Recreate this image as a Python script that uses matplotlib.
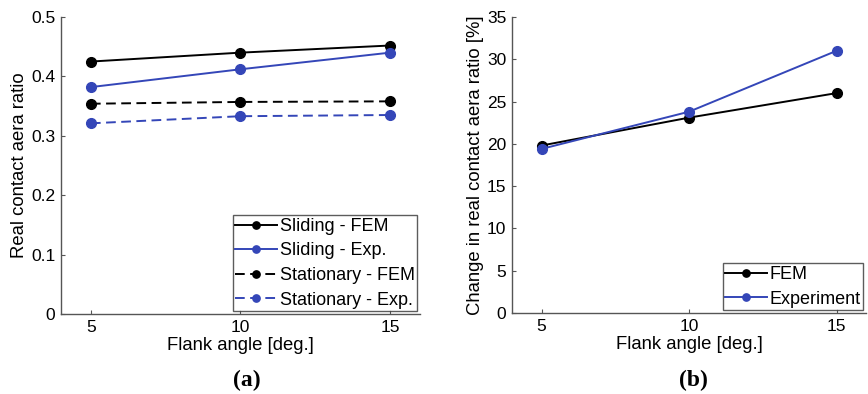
import matplotlib
matplotlib.use("Agg")
import matplotlib.pyplot as plt

plt.rcParams['font.family'] = ['Liberation Sans', 'DejaVu Sans']

angles = [5, 10, 15]
sliding_fem = [0.425, 0.440, 0.452]
sliding_exp = [0.382, 0.412, 0.440]
stationary_fem = [0.354, 0.357, 0.358]
stationary_exp = [0.321, 0.333, 0.335]
change_fem = [19.8, 23.1, 26.0]
change_exp = [19.4, 23.8, 31.0]

black = '#000000'
blue = '#3446b8'
fs_tick = 12.5
fs_lab = 13.3
fs_leg = 13

fig = plt.figure(figsize=(8.68, 3.94), dpi=100)
ax1 = fig.add_axes([61/868, 1-314/394, (420-61)/868, (314-17)/394])
ax2 = fig.add_axes([512/868, 1-313/394, (866-512)/868, (313-17)/394])

ms = 7
lw = 1.4
dash = (5, 2.8)
ax1.plot(angles, sliding_fem, '-o', color=black, ms=ms, lw=lw, label='Sliding - FEM')
ax1.plot(angles, sliding_exp, '-o', color=blue, ms=ms, lw=lw, label='Sliding - Exp.')
ax1.plot(angles, stationary_fem, '--o', color=black, ms=ms, lw=lw, dashes=dash,
         label='Stationary - FEM')
ax1.plot(angles, stationary_exp, '--o', color=blue, ms=ms, lw=lw, dashes=dash,
         label='Stationary - Exp.')
ax1.set_xlim(4, 16)
ax1.set_ylim(0, 0.5)
ax1.set_xticks([5, 10, 15])
ax1.set_yticks([0, 0.1, 0.2, 0.3, 0.4, 0.5])
ax1.set_yticklabels(['0', '0.1', '0.2', '0.3', '0.4', '0.5'])
ax1.set_xlabel('Flank angle [deg.]', fontsize=fs_lab, labelpad=2)
ax1.set_ylabel('Real contact aera ratio', fontsize=fs_lab, labelpad=2)
leg_kw = dict(loc='lower right', fontsize=fs_leg, frameon=True, fancybox=False,
              edgecolor='#333333', borderpad=0.15, labelspacing=0.42,
              handlelength=2.3, handletextpad=0.15, borderaxespad=0.15,
              markerscale=0.75)
leg1 = ax1.legend(**leg_kw)
leg1.get_frame().set_linewidth(1.0)

ax2.plot(angles, change_fem, '-o', color=black, ms=ms, lw=lw, label='FEM')
ax2.plot(angles, change_exp, '-o', color=blue, ms=ms, lw=lw, label='Experiment')
ax2.set_xlim(4, 16)
ax2.set_ylim(0, 35)
ax2.set_xticks([5, 10, 15])
ax2.set_yticks([0, 5, 10, 15, 20, 25, 30, 35])
ax2.set_xlabel('Flank angle [deg.]', fontsize=fs_lab, labelpad=2)
ax2.set_ylabel('Change in real contact aera ratio [%]', fontsize=fs_lab, labelpad=2)
leg2 = ax2.legend(**leg_kw)
leg2.get_frame().set_linewidth(1.0)

for ax in (ax1, ax2):
    for s in ('top', 'right'):
        ax.spines[s].set_visible(False)
    for s in ('left', 'bottom'):
        ax.spines[s].set_color('#555555')
        ax.spines[s].set_linewidth(1.0)
    ax.tick_params(direction='in', length=3, labelsize=fs_tick, color='#555555', pad=4)

fig.text(247/868, 1-380/394, '(a)', ha='center', va='center', fontsize=17,
         fontweight='bold', family='Liberation Serif')
fig.text(693/868, 1-380/394, '(b)', ha='center', va='center', fontsize=17,
         fontweight='bold', family='Liberation Serif')

fig.savefig('out.png', dpi=100)
